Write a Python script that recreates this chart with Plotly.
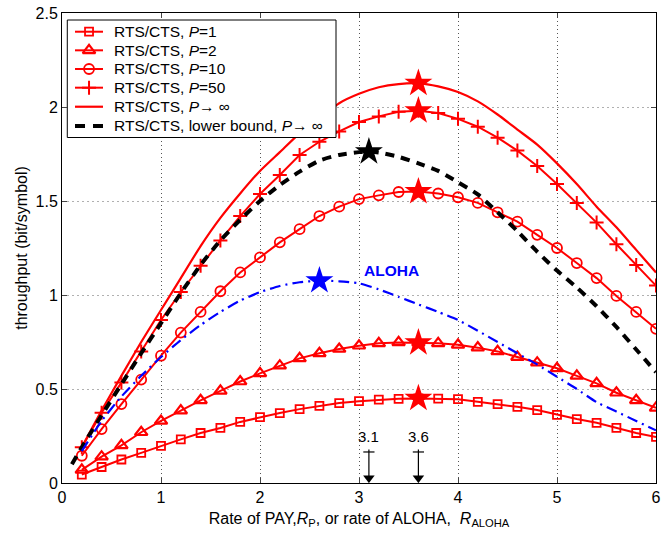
import plotly.graph_objects as go

# ---------------- data ----------------
x_rate = [0.2, 0.4, 0.6, 0.8, 1.0, 1.2, 1.4, 1.6, 1.8, 2.0, 2.2, 2.4, 2.6, 2.8, 3.0,
          3.2, 3.4, 3.6, 3.8, 4.0, 4.2, 4.4, 4.6, 4.8, 5.0, 5.2, 5.4, 5.6, 5.8, 6.0]

p1 = [0.045, 0.085, 0.125, 0.16, 0.197, 0.232, 0.266, 0.293, 0.325, 0.35, 0.372, 0.393, 0.41, 0.425, 0.435,
      0.443, 0.448, 0.45, 0.449, 0.446, 0.432, 0.42, 0.405, 0.388, 0.362, 0.34, 0.32, 0.293, 0.266, 0.245]
p2 = [0.07, 0.14, 0.20, 0.27, 0.33, 0.385, 0.44, 0.49, 0.54, 0.583, 0.624, 0.663, 0.69, 0.713, 0.73,
      0.743, 0.748, 0.746, 0.743, 0.735, 0.72, 0.70, 0.67, 0.64, 0.61, 0.57, 0.53, 0.48, 0.44, 0.40]
p10 = [0.145, 0.287, 0.42, 0.55, 0.677, 0.80, 0.91, 1.02, 1.12, 1.20, 1.28, 1.35, 1.42, 1.47, 1.51,
       1.53, 1.548, 1.55, 1.54, 1.52, 1.49, 1.44, 1.39, 1.32, 1.25, 1.17, 1.09, 0.995, 0.91, 0.82]
p50 = [0.19, 0.374, 0.534, 0.70, 0.867, 1.016, 1.155, 1.29, 1.42, 1.537, 1.638, 1.745, 1.815, 1.87, 1.92,
       1.95, 1.975, 1.98, 1.968, 1.937, 1.895, 1.837, 1.768, 1.686, 1.59, 1.49, 1.385, 1.27, 1.16, 1.05]
pinf = [0.19, 0.385, 0.57, 0.75, 0.92, 1.09, 1.26, 1.41, 1.54, 1.66, 1.76, 1.86, 1.94, 2.02, 2.07,
        2.105, 2.122, 2.126, 2.11, 2.08, 2.03, 1.96, 1.88, 1.80, 1.70, 1.59, 1.47, 1.36, 1.24, 1.12]

x_lb = [0.1, 0.2, 0.4, 0.6, 0.8, 1.0, 1.2, 1.4, 1.6, 1.8, 2.0, 2.2, 2.4, 2.6, 2.8, 3.0, 3.1,
        3.2, 3.4, 3.6, 3.8, 4.0, 4.2, 4.4, 4.6, 4.8, 5.0, 5.2, 5.4, 5.6, 5.8, 6.0]
lower_bound = [0.10, 0.19, 0.36, 0.525, 0.69, 0.85, 1.01, 1.16, 1.29, 1.40, 1.50, 1.585, 1.656, 1.715, 1.745, 1.76, 1.762,
               1.758, 1.735, 1.70, 1.66, 1.60, 1.535, 1.44, 1.34, 1.23, 1.13, 1.04, 0.94, 0.83, 0.71, 0.59]

aloha = [0.17, 0.33, 0.46, 0.57, 0.67, 0.76, 0.84, 0.91, 0.97, 1.015, 1.048, 1.068, 1.076, 1.073, 1.062,
         1.03, 0.99, 0.95, 0.91, 0.867, 0.81, 0.75, 0.69, 0.63, 0.565, 0.50, 0.43, 0.38, 0.33, 0.28]

# optimum points (stars)
star_red_x = [3.6, 3.6, 3.6, 3.6, 3.6]
star_red_y = [0.45, 0.746, 1.55, 1.98, 2.126]
star_lb = (3.1, 1.762)
star_aloha = (2.6, 1.076)

arrow_x = [3.1, 3.6]
arrow_labels = ["3.1", "3.6"]

legend_names = ["RTS/CTS, <i>P</i>=1", "RTS/CTS, <i>P</i>=2", "RTS/CTS, <i>P</i>=10",
                "RTS/CTS, <i>P</i>=50", "RTS/CTS, <i>P</i>→ ∞",
                "RTS/CTS, lower bound, <i>P</i>→ ∞"]

x_ticks = [0, 1, 2, 3, 4, 5, 6]
y_ticks = [0, 0.5, 1, 1.5, 2, 2.5]

# ---------------- style ----------------
RED = "#ff0000"
FONT = "Liberation Sans, Arial, Helvetica, sans-serif"

styles = [
    dict(mode="lines+markers", line=dict(color=RED, width=2),
         marker=dict(symbol="square-open", size=8, color=RED, line=dict(width=1.8))),
    dict(mode="lines+markers", line=dict(color=RED, width=2),
         marker=dict(symbol="triangle-up-open", size=11, color=RED, line=dict(width=2.2))),
    dict(mode="lines+markers", line=dict(color=RED, width=2),
         marker=dict(symbol="circle-open", size=10, color=RED, line=dict(width=1.8))),
    dict(mode="lines+markers", line=dict(color=RED, width=2),
         marker=dict(symbol="cross-thin-open", size=10, color=RED, line=dict(width=2, color=RED))),
    dict(mode="lines", line=dict(color=RED, width=2.2, shape="spline", smoothing=0.6)),
    dict(mode="lines", line=dict(color="black", width=4, dash="9px,7px", shape="spline", smoothing=0.6)),
]

fig = go.Figure()
series = [(x_rate, p1), (x_rate, p2), (x_rate, p10), (x_rate, p50), (x_rate, pinf), (x_lb, lower_bound)]
for (xs, ys), st, nm in zip(series, styles, legend_names):
    fig.add_trace(go.Scatter(x=xs, y=ys, name=nm, showlegend=False, **st))

fig.add_trace(go.Scatter(x=x_rate, y=aloha, name="ALOHA", mode="lines", showlegend=False,
                         line=dict(color="#0000ff", width=2.2, dash="11px,5px,2px,5px",
                                   shape="spline", smoothing=0.6)))

# stars
fig.add_trace(go.Scatter(x=star_red_x, y=star_red_y, mode="markers", showlegend=False,
                         marker=dict(symbol="star", size=21, color=RED, line=dict(width=0))))
fig.add_trace(go.Scatter(x=[star_lb[0]], y=[star_lb[1]], mode="markers", showlegend=False,
                         marker=dict(symbol="star", size=21, color="black", line=dict(width=0))))
fig.add_trace(go.Scatter(x=[star_aloha[0]], y=[star_aloha[1]], mode="markers", showlegend=False,
                         marker=dict(symbol="star", size=21, color="#0000ff", line=dict(width=0))))

# arrows pointing down to the optimum rates (shaft, dagger tick, head)
for xv, lab in zip(arrow_x, arrow_labels):
    fig.add_trace(go.Scatter(x=[xv, xv], y=[0.178, 0.03], mode="lines", showlegend=False,
                             line=dict(color="black", width=1.2), hoverinfo="skip"))
    fig.add_trace(go.Scatter(x=[xv], y=[0.165], mode="markers", showlegend=False, hoverinfo="skip",
                             marker=dict(symbol="line-ew", size=8, line=dict(width=1.2, color="black"))))
    fig.add_trace(go.Scatter(x=[xv], y=[0.026], mode="markers", showlegend=False, hoverinfo="skip",
                             marker=dict(symbol="triangle-down", size=10, color="black",
                                         line=dict(width=0))))
    fig.add_annotation(x=xv, y=0.245, xref="x", yref="y", text=lab, showarrow=False,
                       font=dict(size=15, color="black", family=FONT))

fig.add_annotation(x=3.33, y=1.13, xref="x", yref="y", text="<b>ALOHA</b>", showarrow=False,
                   font=dict(size=15.5, color="#0000ff", family=FONT))

# ---------------- legend (drawn on an overlay axis so it covers the curves) ----------------
leg_x0, leg_x1, leg_y0, leg_y1 = 0.0089, 0.4613, 0.7351, 0.9851
row_y = [0.9602, 0.9206, 0.8809, 0.8411, 0.8006, 0.7596]
sym_x0, sym_xm, sym_x1, txt_x = 0.0219, 0.0455, 0.0690, 0.0845

fig.add_trace(go.Scatter(x=[leg_x0, leg_x1, leg_x1, leg_x0, leg_x0],
                         y=[leg_y0, leg_y0, leg_y1, leg_y1, leg_y0],
                         xaxis="x2", yaxis="y2", mode="lines", fill="toself", fillcolor="white",
                         line=dict(color="black", width=1), showlegend=False, hoverinfo="skip"))
for ry, st, nm in zip(row_y, styles, legend_names):
    ln = dict(st["line"])
    ln.pop("shape", None)
    ln.pop("smoothing", None)
    if ln.get("color") == "black":
        ln["dash"] = "10px,8px"
    fig.add_trace(go.Scatter(x=[sym_x0, sym_x1], y=[ry, ry], xaxis="x2", yaxis="y2",
                             mode="lines", line=ln, showlegend=False, hoverinfo="skip"))
    if "marker" in st:
        fig.add_trace(go.Scatter(x=[sym_xm], y=[ry], xaxis="x2", yaxis="y2",
                                 mode="markers", marker=st["marker"], showlegend=False,
                                 hoverinfo="skip"))
    fig.add_annotation(x=txt_x, y=ry, xref="paper", yref="paper", text=nm, showarrow=False,
                       xanchor="left", yanchor="middle",
                       font=dict(size=15.5, color="black", family=FONT))

fig.update_layout(
    width=661, height=535,
    margin=dict(l=62, r=5, t=13, b=52, autoexpand=False),
    paper_bgcolor="white", plot_bgcolor="white",
    font=dict(family=FONT, size=16, color="black"),
    showlegend=False,
    xaxis2=dict(overlaying="x", range=[0, 1], visible=False, fixedrange=True),
    yaxis2=dict(overlaying="y", range=[0, 1], visible=False, fixedrange=True),
)

fig.layout.xaxis.update(range=[0, 6], tickvals=x_ticks, ticks="inside", ticklen=5, automargin=False,
                        ticklabeloverflow="allow",
                        showline=True, linecolor="black", linewidth=1, mirror="ticks",
                        showgrid=True, gridcolor="#555555", griddash="1px,3px", gridwidth=1,
                        zeroline=False, tickfont=dict(size=16),
                        title=dict(text="Rate of PAY,<i>R</i><sub>P</sub>, or rate of ALOHA,\u00a0\u00a0<i>R</i><sub>ALOHA</sub>",
                                   font=dict(size=16), standoff=7))
fig.layout.yaxis.update(range=[0, 2.5], tickvals=y_ticks, ticks="inside", ticklen=5, automargin=False,
                        ticklabeloverflow="allow",
                        showline=True, linecolor="black", linewidth=1, mirror="ticks",
                        showgrid=True, gridcolor="#b0b0b0", griddash="2px,3px", gridwidth=1,
                        zeroline=False, tickfont=dict(size=16),
                        title=dict(text="throughput (bit/symbol)", font=dict(size=16), standoff=3))

# remove the browser's default 8px page margin so the figure sits at the window's corner
fig.write_html("out.html", config={"displayModeBar": False},
               post_script="document.body.style.margin='0px';")
